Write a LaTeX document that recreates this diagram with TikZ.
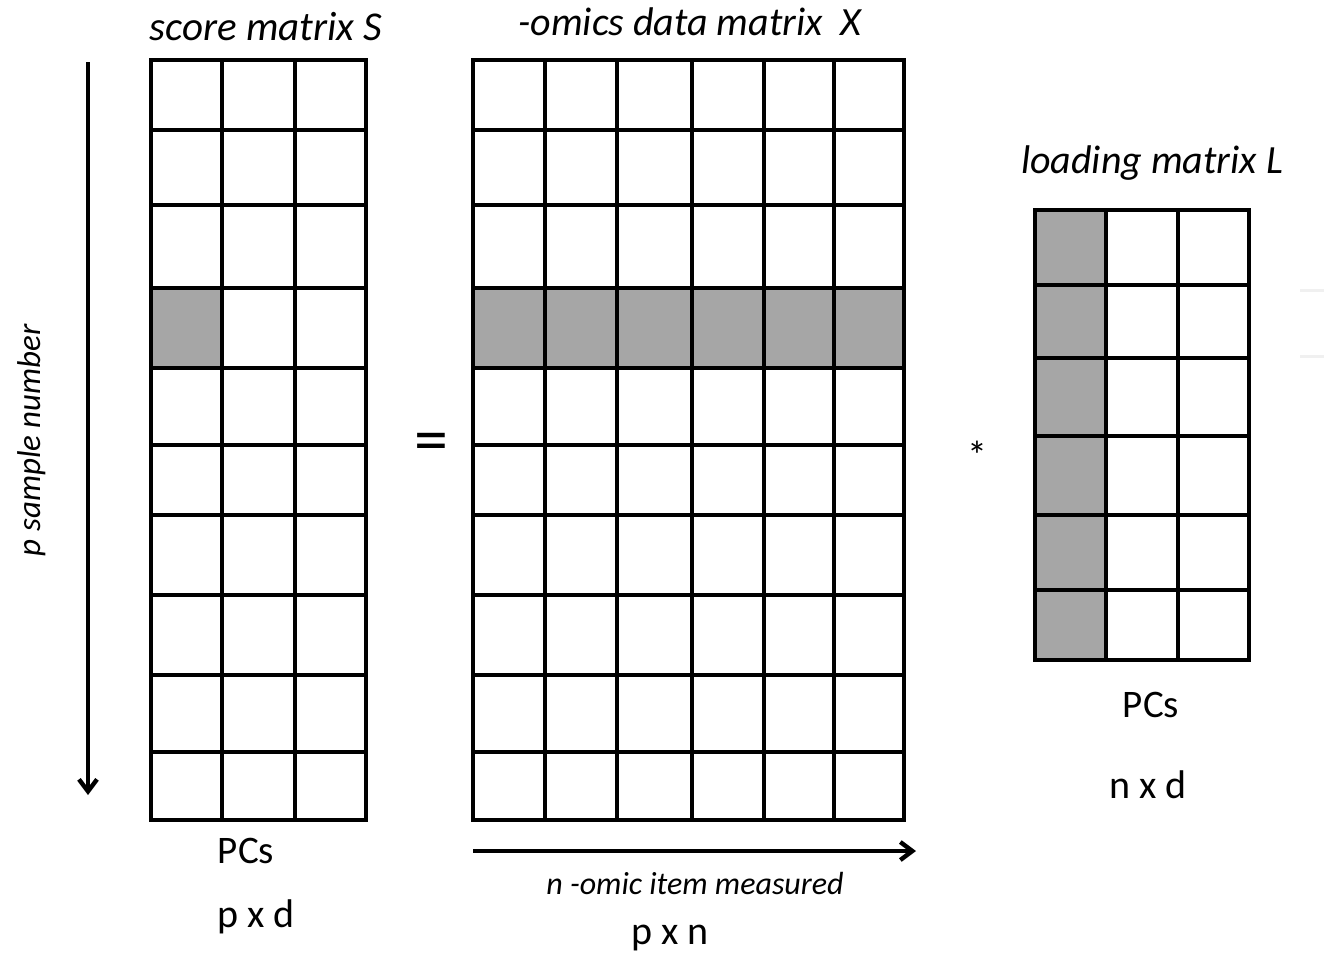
\documentclass[tikz,border=0pt]{standalone}
\usepackage{fontspec}
\setmainfont{Carlito}
\usetikzlibrary{arrows.meta, positioning}
\definecolor{cellgrey}{RGB}{166,166,166}

\begin{document}
\begin{tikzpicture}[
    x=0.5pt, y=-0.5pt,
    grid/.style={line width=2.3pt, line cap=rect},
    shaded/.style={fill=cellgrey},
    title/.style={font=\fontsize{20.5}{24}\selectfont\itshape},
    dimlabel/.style={font=\fontsize{20}{24}\selectfont},
    arrow/.style={line width=2.2pt, -{Straight Barb[length=6pt, width=9pt, line width=2.2pt]}}
]
\useasboundingbox (0,0) rectangle (1324,955);

% shaded cells
\fill[shaded] (151,288) rectangle (222,368);
\fill[shaded] (473,288) rectangle (904,368);
\fill[shaded] (1035,210) rectangle (1106,660);

% score matrix S
\foreach \y in {60,130,205,288,368,445,515,595,675,752,820}
  \draw[grid] (151,\y) -- (366,\y);
\foreach \x in {151,222,295,366}
  \draw[grid] (\x,60) -- (\x,820);
\node (S) [title] at (266,27) {score matrix S};

% data matrix X
\foreach \y in {60,130,205,288,368,445,515,595,675,752,820}
  \draw[grid] (473,\y) -- (904,\y);
\foreach \x in {473,545,617,692,764,834,904}
  \draw[grid] (\x,60) -- (\x,820);
\node (X) [title, font=\fontsize{20}{24}\selectfont\itshape] at (690,22) {-omics data matrix\ \ X};

% loading matrix L
\foreach \y in {210,285,358,436,515,590,660}
  \draw[grid] (1035,\y) -- (1249,\y);
\foreach \x in {1035,1106,1178,1249}
  \draw[grid] (\x,210) -- (\x,660);
\node (L) [title, font=\fontsize{20}{24}\selectfont\itshape] at (1152,163) {loading matrix L};

% operators
\node (eq) [font=\fontsize{34}{38}\selectfont] at (431,448) {=};
\node (times) [font=\fontsize{20}{24}\selectfont] at (977,455) {*};

% sample axis
\coordinate (ptop) at (88,62);
\coordinate (pbot) at (88,795);
\draw[arrow] (ptop) -- (pbot);
\node (plabel) [font=\fontsize{16.5}{20}\selectfont\itshape, rotate=90] at (32,440) {p sample number};

% item axis
\coordinate (nleft) at (473,851);
\coordinate (nright) at (916,851);
\draw[arrow] (nleft) -- (nright);
\node (nlabel) [font=\fontsize{16}{19}\selectfont\itshape] at (695,883) {n -omic item measured};

% dimension labels
\node (pcS) [dimlabel, font=\fontsize{19.5}{24}\selectfont] at (246,851) {PCs};
\node (dimS) [dimlabel] at (256,917) {p x d};
\node (dimX) [dimlabel] at (670,938) {p x n};
\node (pcL) [dimlabel, font=\fontsize{19.5}{24}\selectfont] at (1151,705) {PCs};
\node (dimL) [dimlabel] at (1148,785) {n x d};

% faint marks at right edge
\draw[gray!12, line width=1.5pt] (1300,290) -- (1324,290);
\draw[gray!12, line width=1.5pt] (1300,356) -- (1324,356);
\end{tikzpicture}
\end{document}
